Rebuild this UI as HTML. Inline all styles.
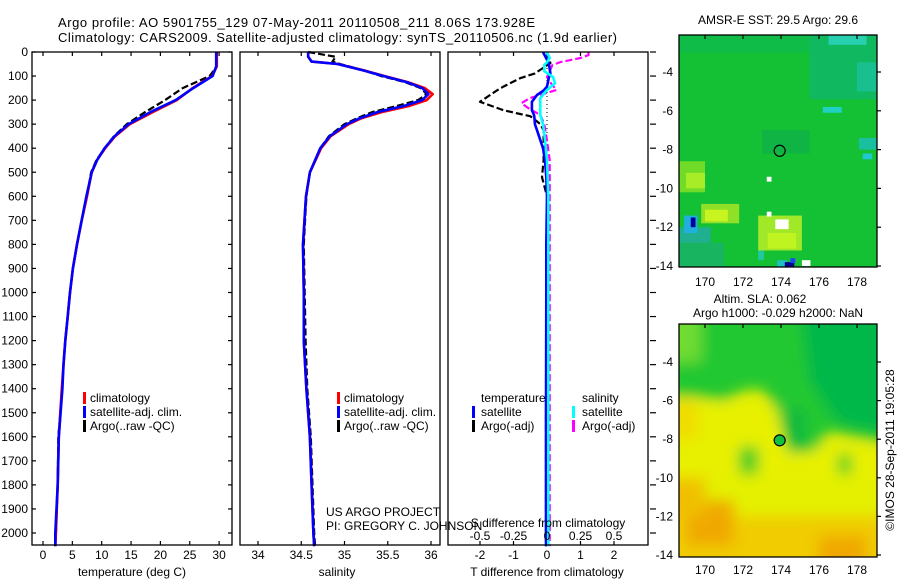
<!DOCTYPE html>
<html><head><meta charset="utf-8"><style>
html,body{margin:0;padding:0;background:#fff;}
svg{display:block;font-family:"Liberation Sans",sans-serif;}
</style></head><body>
<svg id="c" width="900" height="580" xmlns="http://www.w3.org/2000/svg">
<defs>
<clipPath id="m1c"><rect x="679" y="35" width="198" height="232"/></clipPath>
<clipPath id="m2c"><rect x="679" y="324" width="198" height="233"/></clipPath>
<filter id="bl" x="-20%" y="-20%" width="140%" height="140%"><feGaussianBlur stdDeviation="7"/></filter>
</defs>
<text x="58" y="27" font-size="13" textLength="477">Argo profile: AO 5901755_129 07-May-2011 20110508_211 8.06S 173.928E</text>
<text x="58" y="42" font-size="13" textLength="559">Climatology: CARS2009. Satellite-adjusted climatology: synTS_20110506.nc (1.9d earlier)</text>
<g id="g"></g>
</svg>
<script>
const NS='http://www.w3.org/2000/svg';
const svg=document.getElementById('c');
// ---- data ----
const depthT=[0,60,100,150,200,250,300,350,400,450,500,600,700,800,900,1000,1100,1200,1300,1400,1600,1800,2000,2055];
const tempClim=[29.6,29.6,28.8,25.5,22.8,18.7,14.8,12.3,10.6,9.2,8.3,7.5,6.6,5.8,5.1,4.6,4.2,3.8,3.5,3.2,2.7,2.5,2.2,2.1];
const tempSat=[29.5,29.5,28.9,25.6,22.6,18.3,14.6,12.2,10.5,9.2,8.3,7.4,6.6,5.8,5.1,4.6,4.2,3.8,3.5,3.3,2.7,2.5,2.1,2.1];
const tempArgo=[29.6,29.6,28.4,23.8,20.8,17.4,14.3,12.1,10.5,9.1,8.2,7.5,6.6,5.8,5.1,4.6,4.2,3.8,3.5,3.3,2.6,2.5,2.2,2.1];
const depthS=[0,20,40,50,76,100,125,150,175,200,225,250,275,300,350,400,500,600,800,1000,1200,1400,1600,1800,2000,2055];
const salClim=[34.58,34.58,34.62,34.92,35.22,35.46,35.73,35.93,36.02,35.95,35.74,35.43,35.2,35.05,34.84,34.73,34.6,34.555,34.52,34.53,34.53,34.56,34.6,34.62,34.64,34.65];
const salSat=[34.58,34.58,34.62,34.92,35.21,35.45,35.72,35.9,35.97,35.9,35.68,35.38,35.18,35.03,34.83,34.72,34.6,34.555,34.52,34.53,34.53,34.56,34.6,34.62,34.64,34.65];
const salArgo=[34.58,34.9,34.86,34.95,35.22,35.42,35.7,35.88,35.95,35.85,35.6,35.32,35.15,35.0,34.82,34.72,34.6,34.56,34.53,34.54,34.55,34.57,34.61,34.63,34.65,34.66];
const depthD=[0,46,89,109,144,160,179,207,242,258,267,300,325,350,400,450,520,600,800,1000,1500,2055];
const dTsat=[-0.12,0.05,0.1,0.05,0,-0.1,-0.3,-0.45,-0.45,-0.4,-0.38,-0.36,-0.3,-0.24,-0.12,-0.06,-0.02,0,-0.02,-0.02,-0.03,-0.03];
const dTargo=[0,0.1,-0.36,-0.8,-1.3,-1.5,-1.7,-2.0,-1.3,-0.8,-0.5,-0.2,-0.1,-0.1,-0.1,-0.1,-0.15,0,0.05,0.03,-0.03,-0.03];
const depthDS=[0,13,25,42,54,80,104,130,158,192,213,233,262,300,367,450,600,1000,2055];
const dSsat=[0,0.01,0.02,0.0,-0.02,-0.02,0.045,0.06,0.0,-0.05,-0.05,-0.05,-0.05,-0.03,-0.015,0,0.01,0.01,0.01];
const dSargo=[0.31,0.31,0.25,0.1,0.04,0.02,0,0.03,0.07,-0.13,-0.19,-0.14,-0.05,-0.02,0,0.02,0.02,0.02,0.02];
const depthTicks=[0,100,200,300,400,500,600,700,800,900,1000,1100,1200,1300,1400,1500,1600,1700,1800,1900,2000];
const tTicks=[0,5,10,15,20,25,30];
const sTicks=[34,34.5,35,35.5,36];
const sTickLabels=['34','34.5','35','35.5','36'];
const dTticks=[-2,-1,0,1,2];
const dSticks=[-0.5,-0.25,0,0.25,0.5];
const lonTicks=[170,172,174,176,178];
const latTicks=[-4,-6,-8,-10,-12,-14];
// ---- axes ----
const yD=d=>52+d*0.2405;
const xT=t=>43+t*5.87;
const xS=s=>258+(s-34)*86.5;
const xDT=v=>547+v*33.5;
const xDS=v=>547+v*134;
const mx=lon=>705+(lon-170)*19;
const my1=lat=>72+(-4-lat)*19.4;
const my2=lat=>362+(-4-lat)*19.3;
function el(tag,attrs,parent){const e=document.createElementNS(NS,tag);for(const k in attrs)e.setAttribute(k,attrs[k]);(parent||svg).appendChild(e);return e;}
function txt(x,y,s,anchor,size,name){const t=el('text',{x:x,y:y,'font-size':size||12,'text-anchor':anchor||'start'});t.textContent=s;


return t;}
function line(xs,ys,fx,col,w,dash,name){const pts=xs.map((v,i)=>fx(v).toFixed(1)+','+yD(ys[i]).toFixed(1)).join(' ');
const p=el('polyline',{points:pts,fill:'none',stroke:col,'stroke-width':w,'stroke-dasharray':dash||'none','stroke-linejoin':'round'});


return p;}
function frame(x,y,w,h,name){const r=el('rect',{x:x,y:y,width:w,height:h,fill:'none',stroke:'#000','stroke-width':1.3});

}
function tick(x1,y1,x2,y2){const l=el('line',{x1:x1,y1:y1,x2:x2,y2:y2,stroke:'#000','stroke-width':1.2});

}
function mark(x,y,col){const r=el('rect',{x:x,y:y-6,width:3,height:12,fill:col});

}
depthTicks.forEach(d=>{txt(28,yD(d)+4,String(d),'end',12,'depth-tick-label');tick(32,yD(d),36,yD(d));tick(228,yD(d),232,yD(d));tick(650,yD(d),656,yD(d));});
// panel 1
tTicks.forEach(t=>{tick(xT(t),52,xT(t),56);tick(xT(t),541,xT(t),545);txt(xT(t),559,String(t),'middle',12,'temperature-tick-label');});
line(tempArgo,depthT,xT,'#000',2.2,'7,3','temperature-argo-line');
line(tempClim,depthT,xT,'#f00',2.6,null,'temperature-climatology-line');
line(tempSat,depthT,xT,'#0000ff',2.6,null,'temperature-satellite-line');
frame(32,52,200,493,'temperature-panel');
txt(132,576,'temperature (deg C)','middle',12,'temperature-axis-title');
mark(83,398,'#f00');txt(90,402,'climatology','start',12,'legend-climatology');
mark(83,412,'#0000ff');txt(90,416,'satellite-adj. clim.','start',12,'legend-satellite');
mark(83,426,'#000');txt(90,430,'Argo(..raw -QC)','start',12,'legend-argo');
// panel 2
sTicks.forEach((s,i)=>{tick(xS(s),52,xS(s),56);tick(xS(s),541,xS(s),545);txt(xS(s),559,sTickLabels[i],'middle',12,'salinity-tick-label');});
line(salArgo,depthS,xS,'#000',2.2,'7,3','salinity-argo-line');
line(salClim,depthS,xS,'#f00',2.6,null,'salinity-climatology-line');
line(salSat,depthS,xS,'#0000ff',2.6,null,'salinity-satellite-line');
frame(240,52,200,493,'salinity-panel');
txt(337,576,'salinity','middle',12,'salinity-axis-title');
mark(337,398,'#f00');txt(344,402,'climatology','start',12,'legend-climatology-2');
mark(337,412,'#0000ff');txt(344,416,'satellite-adj. clim.','start',12,'legend-satellite-2');
mark(337,426,'#000');txt(344,430,'Argo(..raw -QC)','start',12,'legend-argo-2');
// panel 3
dTticks.forEach(t=>{tick(xDT(t),52,xDT(t),56);tick(xDT(t),541,xDT(t),545);txt(xDT(t),559,String(t),'middle',12,'tdiff-tick-label');});
el('line',{x1:547,y1:52,x2:547,y2:yD(520),stroke:'#000','stroke-width':1,'stroke-dasharray':'1,3'});
line(dTargo,depthD,xDT,'#000',2.2,'7,3','tdiff-argo-line');
line(dSargo,depthDS,xDS,'#ff00ff',2.2,'7,3','sdiff-argo-line');
line(dTsat,depthD,xDT,'#0000ff',2.6,null,'tdiff-satellite-line');
line(dSsat,depthDS,xDS,'#00ffff',2.6,null,'sdiff-satellite-line');
frame(448,52,200,493,'difference-panel');
dSticks.forEach(t=>{txt(xDS(t),540,String(t),'middle',12,'sdiff-tick-label');});
txt(548,527,'S difference from climatology','middle',12,'sdiff-axis-title');
txt(547,576,'T difference from climatology','middle',12,'tdiff-axis-title');
txt(481,402,'temperature','start',12,'legend-temperature-header');
txt(582,402,'salinity','start',12,'legend-salinity-header');
mark(472,412,'#0000ff');txt(481,416,'satellite','start',12,'legend-t-satellite');
mark(472,426,'#000');txt(481,430,'Argo(-adj)','start',12,'legend-t-argo');
mark(572,412,'#00ffff');txt(582,416,'satellite','start',12,'legend-s-satellite');
mark(572,426,'#ff00ff');txt(582,430,'Argo(-adj)','start',12,'legend-s-argo');
txt(326,516,'US ARGO PROJECT','start',12,'project-credit');
txt(326,530,'PI: GREGORY C. JOHNSON','start',12,'pi-credit');
// ---- map 1 (SST) ----
const g1=el('g',{'clip-path':'url(#m1c)'});


el('rect',{x:679,y:35,width:198,height:232,fill:'#14c034'},g1);
function p1(lon,lat,w,h,col,g,my){el('rect',{x:mx(lon),y:my(lat),width:w*19,height:h*19.4,fill:col},g);}
p1(168.5,-1.8,11,1.2,'#10bc48',g1,my1);
p1(175.5,-1.8,4,3.6,'#10b860',g1,my1);
p1(176.5,-2.0,2,0.6,'#28d0b0',g1,my1);
p1(178,-3.5,1.2,1.5,'#18c090',g1,my1);
p1(176.2,-5.8,1,0.3,'#20d0c0',g1,my1);
p1(178.1,-7.4,1,0.6,'#18c0a0',g1,my1);
p1(178.3,-8.2,0.5,0.3,'#20c8d0',g1,my1);
p1(173,-7.0,2.5,1.2,'#10b444',g1,my1);
p1(168.5,-8.6,1.5,1.6,'#70dc28',g1,my1);
p1(169,-9.2,1,0.8,'#a8ec28',g1,my1);
p1(169.8,-10.8,2,1,'#90e028',g1,my1);
p1(170,-11.1,1.2,0.6,'#c8f420',g1,my1);
p1(172.8,-11.4,2.3,1.8,'#a0e828',g1,my1);
p1(173.3,-12.3,1.5,0.8,'#c0f420',g1,my1);
p1(168.5,-12,1.8,1.2,'#20b090',g1,my1);
p1(168.5,-12.8,2.5,2,'#18b460',g1,my1);
p1(168.9,-11.4,0.7,0.9,'#20b0e0',g1,my1);
p1(169.25,-11.5,0.25,0.5,'#0000a0',g1,my1);
p1(173.25,-9.4,0.25,0.25,'#fff',g1,my1);
p1(173.25,-11.2,0.25,0.25,'#fff',g1,my1);
p1(173.7,-11.6,0.7,0.5,'#fff',g1,my1);
p1(175.1,-13.7,0.45,0.3,'#fff',g1,my1);
p1(173.8,-13.7,0.5,0.4,'#20c0c0',g1,my1);
p1(174.2,-13.8,0.5,0.3,'#000090',g1,my1);
p1(174.5,-13.6,0.25,0.25,'#2040ff',g1,my1);
p1(172.8,-13.2,0.3,0.5,'#20c8a0',g1,my1);
el('circle',{cx:mx(173.93),cy:my1(-8.06),r:5.5,fill:'none',stroke:'#000','stroke-width':1.2});
frame(679,35,198,232,'sst-map-frame');
latTicks.forEach(l=>{txt(673,my1(l)+4,String(l),'end',12,'sst-lat-label');tick(877,my1(l),881,my1(l));});
lonTicks.forEach(l=>{txt(mx(l),286,String(l),'middle',12,'sst-lon-label');tick(mx(l),35,mx(l),39);});
txt(778,24,'AMSR-E SST: 29.5 Argo: 29.6','middle',12,'sst-map-title');
txt(760,303,'Altim. SLA: 0.062','middle',12,'sla-text');
txt(778,317,'Argo h1000: -0.029 h2000: NaN','middle',12,'height-text');
// ---- map 2 (SLA) ----
const g2o=el('g',{'clip-path':'url(#m2c)'});


el('rect',{x:679,y:324,width:198,height:233,fill:'#e4f000'},g2o);
const g2=el('g',{filter:'url(#bl)'},g2o);
function poly(pts,col){el('polygon',{points:pts.map(p=>mx(p[0])+','+my2(p[1])).join(' '),fill:col},g2);}
poly([[168,-12],[180,-12],[180,-16],[168,-16]],'#f0cc00');
poly([[169,-11.2],[171.5,-11.2],[171.5,-13.5],[169,-13.5]],'#f0a800');
poly([[176,-13],[178.5,-13],[178.5,-15],[176,-15]],'#f0a800');
poly([[168,-10],[170,-10],[170,-12],[168,-12]],'#f0c000');
poly([[168,-6.3],[173.8,-6.3],[174,-8.5],[175.5,-9],[176,-8.3],[180,-8.6],[180,-10],[168,-10]],'#e8f000');
poly([[168,-1],[180,-1],[180,-8.3],[176.5,-7.6],[175.8,-8.6],[174.4,-8.7],[173.8,-6.5],[173,-5.4],[172,-5.5],[171,-6],[169.5,-5.8],[168,-5.8]],'#20c832');
poly([[175,-1],[180,-1],[180,-7.8],[177,-7.2],[175.5,-5]],'#00b848');
poly([[174.2,-6.5],[175.2,-6.5],[175.2,-8.6],[174.4,-8.6]],'#10b840');
poly([[168,-1],[169.8,-1],[169.8,-4],[168,-4]],'#70dc30');
poly([[171.8,-8.4],[172.8,-8.4],[172.8,-9.8],[171.8,-9.8]],'#30cc28');
poly([[177,-8.8],[177.7,-8.8],[177.7,-9.8],[177,-9.8]],'#30cc28');
poly([[168,-6],[169.6,-6],[169.6,-8],[168,-8]],'#f0dc00');
el('circle',{cx:mx(173.93),cy:my2(-8.06),r:5.5,fill:'#10c040',stroke:'#000','stroke-width':1.2},g2o);
frame(679,324,198,233,'sla-map-frame');
latTicks.forEach(l=>{txt(673,my2(l)+4,String(l),'end',12,'sla-lat-label');tick(877,my2(l),881,my2(l));});
lonTicks.forEach(l=>{txt(mx(l),574,String(l),'middle',12,'sla-lon-label');tick(mx(l),324,mx(l),328);});
const st=txt(0,0,'©IMOS 28-Sep-2011 19:05:28','middle',12,'timestamp-credit');
st.setAttribute('transform','translate(894,450) rotate(-90)');
</script>
</body></html>
